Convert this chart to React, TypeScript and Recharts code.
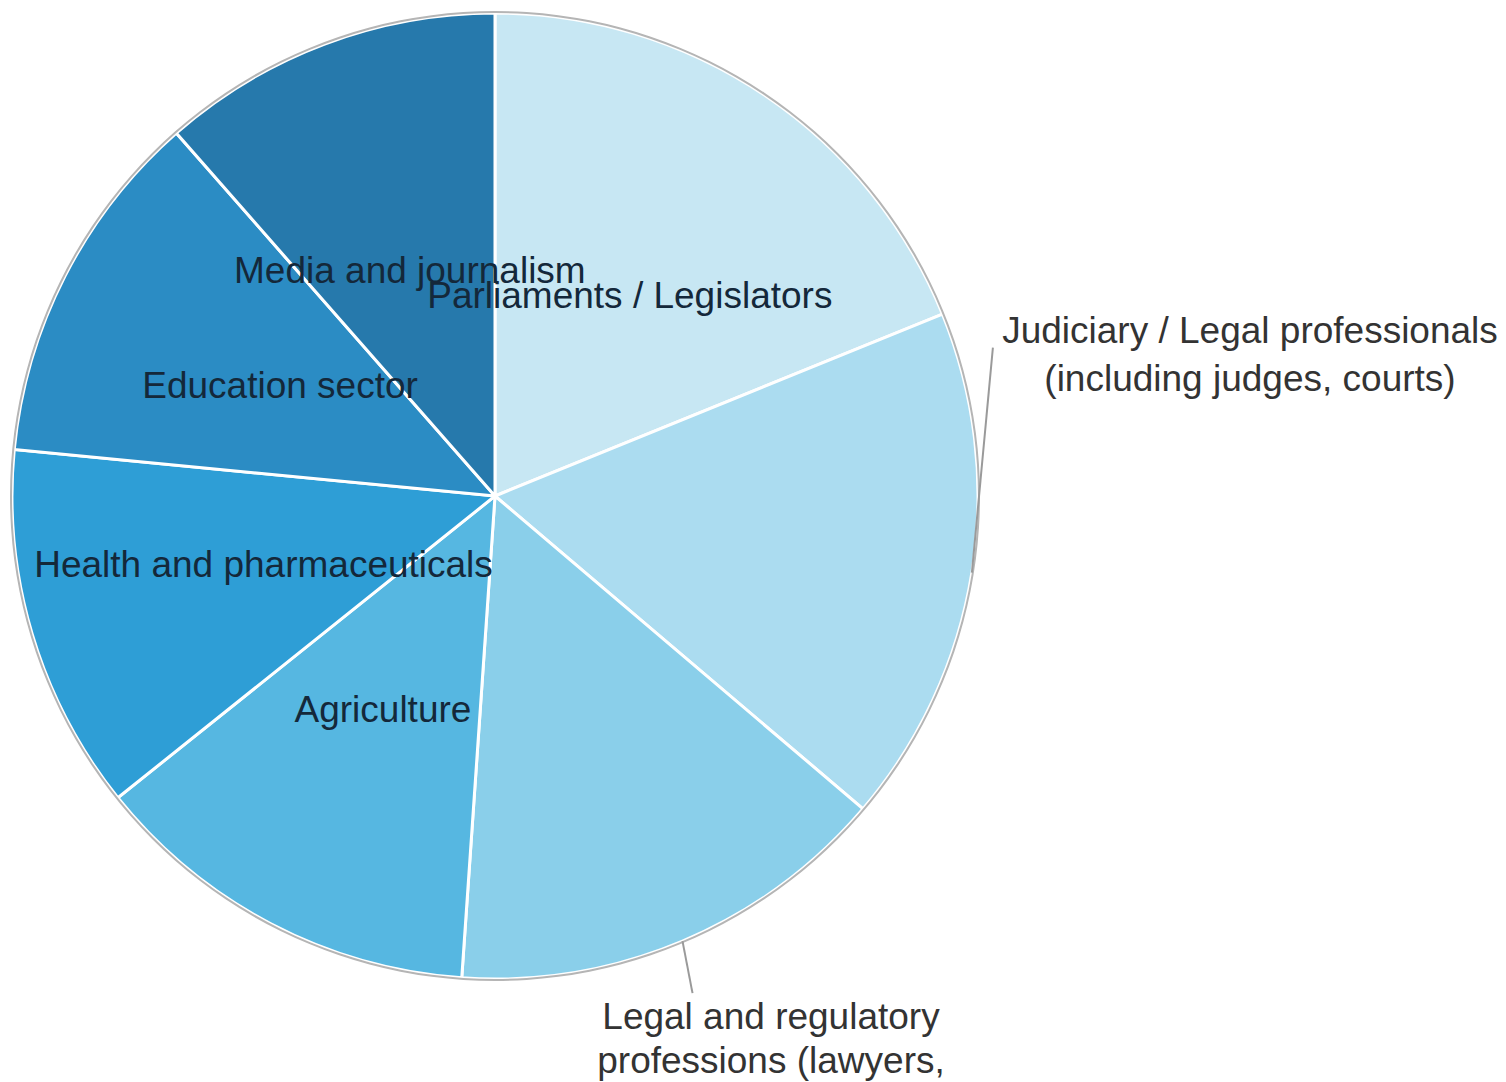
import { PieChart, Pie, Cell } from 'recharts'

const SECTORS = [
  'Parliaments / Legislators',
  'Judiciary / Legal professionals (including judges, courts)',
  'Legal and regulatory professions (lawyers,',
  'Agriculture',
  'Health and pharmaceuticals',
  'Education sector',
  'Media and journalism',
]
const SHARES = [67.9, 62.5, 53.6, 47.4, 44.2, 43.2, 41.3]
const LABEL_LINES = [
  ['Parliaments / Legislators'],
  ['Judiciary / Legal professionals', '(including judges, courts)'],
  ['Legal and regulatory', 'professions (lawyers,'],
  ['Agriculture'],
  ['Health and pharmaceuticals'],
  ['Education sector'],
  ['Media and journalism'],
]
const COLORS = ['#c7e7f3', '#abdcf0', '#8acfea', '#56b7e1', '#2e9ed6', '#2b8cc4', '#2679ac']

const data = SECTORS.map((name, i) => ({ name, value: SHARES[i] }))
const RING = [{ name: 'edge', value: 1 }]

const RADIAN = Math.PI / 180
const FONT = '"Liberation Sans", Arial, sans-serif'

// leader line end offsets (from the arc point) and text anchor for the outside labels
const OUTSIDE: Record<number, { dx: number; dy: number; tx: number; ty: number; lh: number }> = {
  1: { dx: 21, dy: -225, tx: 1250, ty: 330, lh: 48 },
  2: { dx: 10, dy: 52, tx: 771, ty: 1016, lh: 44 },
}

const renderLabel = (props: any) => {
  const { cx, cy, midAngle, outerRadius, index } = props
  const lines = LABEL_LINES[index]
  const cos = Math.cos(-midAngle * RADIAN)
  const sin = Math.sin(-midAngle * RADIAN)
  const out = OUTSIDE[index]
  if (!out) {
    const r = outerRadius * 0.5
    return (
      <text
        x={cx + r * cos}
        y={cy + r * sin}
        textAnchor="middle"
        dominantBaseline="central"
        fill="#14283a"
        fontSize={37}
        fontFamily={FONT}
      >
        {lines[0]}
      </text>
    )
  }
  const sx = cx + outerRadius * cos
  const sy = cy + outerRadius * sin
  return (
    <g>
      <line x1={sx} y1={sy} x2={sx + out.dx} y2={sy + out.dy} stroke="#9a9a9a" strokeWidth={2} />
      {lines.map((t, i) => (
        <text
          key={i}
          x={out.tx}
          y={out.ty + i * out.lh}
          textAnchor="middle"
          dominantBaseline="central"
          fill="#333333"
          fontSize={37}
          fontFamily={FONT}
        >
          {t}
        </text>
      ))}
    </g>
  )
}

export default function App() {
  return (
    <div style={{ width: 1506, height: 1082, background: '#fff' }}>
      <style>{'body{margin:0}'}</style>
      <PieChart width={1506} height={1082} margin={{ top: 0, right: 0, bottom: 0, left: 0 }}>
        <Pie
          data={data}
          dataKey="value"
          nameKey="name"
          cx={495}
          cy={496}
          outerRadius={483}
          startAngle={90}
          endAngle={-270}
          stroke="#ffffff"
          strokeWidth={3}
          label={renderLabel}
          labelLine={false}
          isAnimationActive={false}
        >
          {data.map((_, i) => (
            <Cell key={i} fill={COLORS[i]} />
          ))}
        </Pie>
        <Pie
          data={RING}
          dataKey="value"
          cx={495}
          cy={496}
          innerRadius={483}
          outerRadius={485}
          startAngle={90}
          endAngle={-270}
          fill="#b5b5b5"
          stroke="none"
          isAnimationActive={false}
        />
      </PieChart>
    </div>
  )
}
